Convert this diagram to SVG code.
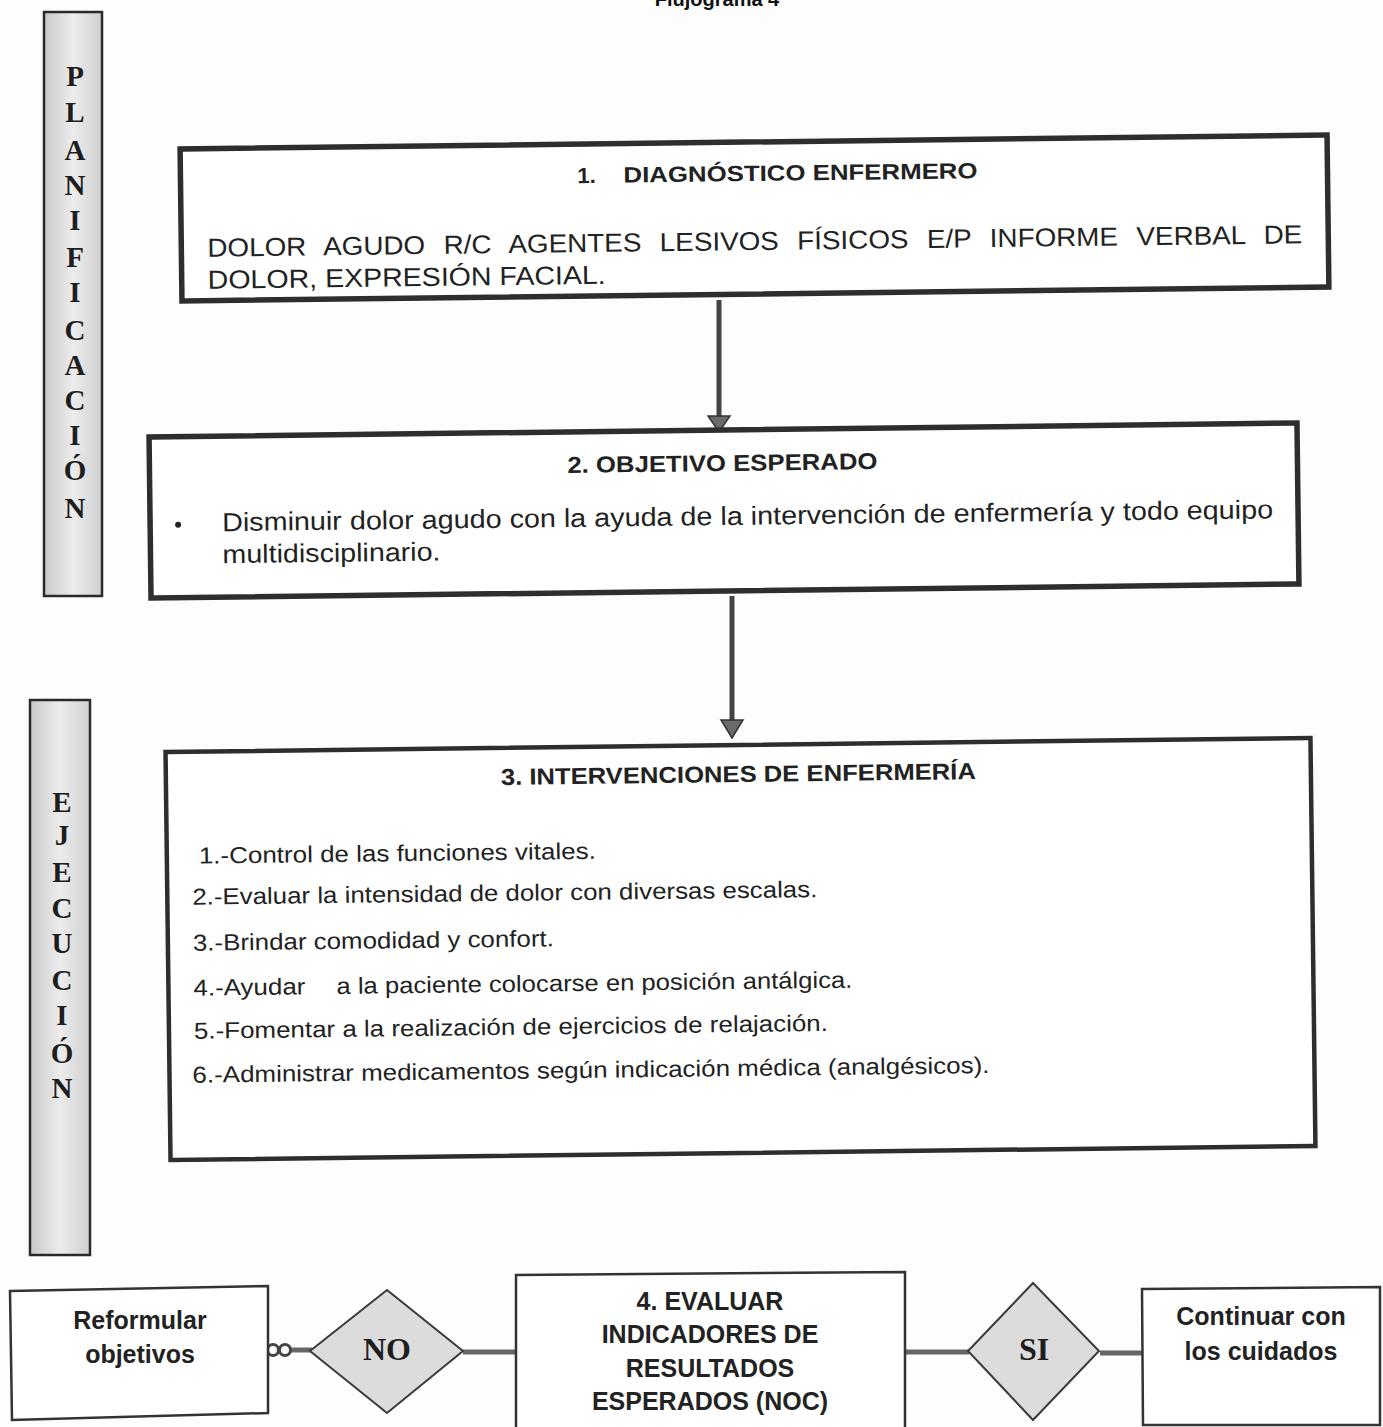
<svg xmlns="http://www.w3.org/2000/svg" width="1383" height="1427" viewBox="0 0 1383 1427">
<defs>
<linearGradient id="bar" x1="0" y1="0" x2="1" y2="0">
<stop offset="0" stop-color="#c9c9c9"/>
<stop offset="0.5" stop-color="#ececec"/>
<stop offset="1" stop-color="#cfcfcf"/>
</linearGradient>
<style>
.bg{fill:#fdfdfd}
.bar{fill:url(#bar);stroke:#2a2a2a;stroke-width:2.5}
.vl{font-family:"Liberation Serif",serif;font-weight:bold;font-size:29px;fill:#1e1e1e;text-anchor:middle}
.box{fill:#ffffff;stroke:#2e2e2e}
.thin{fill:#ffffff;stroke:#333;stroke-width:2.5}
.dia{fill:#dcdcdc;stroke:#3a3a3a;stroke-width:2}
.h{font-family:"Liberation Sans Narrow","Liberation Sans",sans-serif;font-weight:bold;font-size:23px;fill:#222}
.t{font-family:"Liberation Sans",sans-serif;font-size:26px;fill:#222}
.n{font-family:"Liberation Sans Narrow","Liberation Sans",sans-serif;font-size:26px;fill:#222}
.li{font-family:"Liberation Sans Narrow","Liberation Sans",sans-serif;font-size:23px;fill:#222}
.b{font-family:"Liberation Sans",sans-serif;font-weight:bold;font-size:25px;fill:#222;text-anchor:middle}
.d{font-family:"Liberation Serif",serif;font-weight:bold;font-size:32px;fill:#1e1e1e;text-anchor:middle}
.conn{stroke:#444;stroke-width:5;fill:none}
.conn2{stroke:#666;stroke-width:5;fill:none}
.head{fill:#6a6a6a;stroke:#333;stroke-width:1.5}
</style>
</defs>
<rect class="bg" x="0" y="0" width="1383" height="1427"/>

<text id="title" x="717" y="6" text-anchor="middle" style="font-family:'Liberation Sans',sans-serif;font-weight:bold;font-size:20px;fill:#111">Flujograma 4</text>

<g id="planificacion">
<rect class="bar" x="44" y="12" width="58" height="584"/>
<text class="vl" x="75" y="86">P</text>
<text class="vl" x="75" y="122">L</text>
<text class="vl" x="75" y="160">A</text>
<text class="vl" x="75" y="195">N</text>
<text class="vl" x="75" y="230">I</text>
<text class="vl" x="75" y="267">F</text>
<text class="vl" x="75" y="302">I</text>
<text class="vl" x="75" y="340">C</text>
<text class="vl" x="75" y="375">A</text>
<text class="vl" x="75" y="410">C</text>
<text class="vl" x="75" y="445">I</text>
<text class="vl" x="75" y="480">Ó</text>
<text class="vl" x="75" y="518">N</text>
</g>

<g id="ejecucion">
<rect class="bar" x="30" y="700" width="60" height="555"/>
<text class="vl" x="62" y="812">E</text>
<text class="vl" x="62" y="845">J</text>
<text class="vl" x="62" y="882">E</text>
<text class="vl" x="62" y="918">C</text>
<text class="vl" x="62" y="953">U</text>
<text class="vl" x="62" y="990">C</text>
<text class="vl" x="62" y="1025">I</text>
<text class="vl" x="62" y="1063">Ó</text>
<text class="vl" x="62" y="1098">N</text>
</g>

<g id="connectors">
<line class="conn" x1="719" y1="300" x2="719" y2="418"/>
<path class="head" d="M708,416 L730,416 L719,432 Z"/>
<line class="conn" x1="732" y1="596" x2="732" y2="722"/>
<path class="head" d="M721,720 L743,720 L732,738 Z"/>
<line class="conn2" x1="290" y1="1350" x2="312" y2="1350"/>
<circle cx="273" cy="1350" r="5.5" fill="none" stroke="#444" stroke-width="3"/>
<circle cx="285" cy="1350" r="5.5" fill="none" stroke="#444" stroke-width="3"/>
<line class="conn2" x1="463" y1="1352" x2="516" y2="1352"/>
<line class="conn2" x1="905" y1="1352" x2="969" y2="1352"/>
<line class="conn2" x1="1100" y1="1353" x2="1142" y2="1353"/>
</g>

<g id="n1" transform="rotate(-0.7 754 218)">
<rect class="box" x="181" y="142" width="1147" height="152" stroke-width="5.5"/>
<text class="h" x="578" y="181" style="font-family:'Liberation Sans',sans-serif;font-size:22px">1.</text>
<text class="h" x="624" y="181" textLength="354" lengthAdjust="spacingAndGlyphs" style="font-family:'Liberation Sans',sans-serif;font-size:22px">DIAGNÓSTICO ENFERMERO</text>
<text class="t" x="207" y="250" word-spacing="10" textLength="1095" lengthAdjust="spacingAndGlyphs">DOLOR AGUDO R/C AGENTES LESIVOS FÍSICOS E/P INFORME VERBAL DE</text>
<text class="t" x="207" y="282" textLength="398" lengthAdjust="spacingAndGlyphs">DOLOR, EXPRESIÓN FACIAL.</text>
</g>

<g id="n2" transform="rotate(-0.7 724 511)">
<rect class="box" x="150" y="430" width="1148" height="161" stroke-width="5.5"/>
<text class="h" x="568" y="471" textLength="310" lengthAdjust="spacingAndGlyphs">2. OBJETIVO ESPERADO</text>
<circle cx="178" cy="518" r="3" fill="#222"/>
<text class="n" x="222" y="525" textLength="1051" lengthAdjust="spacingAndGlyphs">Disminuir dolor agudo con la ayuda de la intervención de enfermería y todo equipo</text>
<text class="n" x="222" y="557" textLength="218" lengthAdjust="spacingAndGlyphs">multidisciplinario.</text>
</g>

<g id="n3" transform="rotate(-0.7 740 950)">
<rect class="box" x="168" y="745" width="1145" height="408" stroke-width="4.5"/>
<text class="h" x="503" y="782" textLength="475" lengthAdjust="spacingAndGlyphs">3. INTERVENCIONES DE ENFERMERÍA</text>
<text class="li" x="200" y="857" textLength="397" lengthAdjust="spacingAndGlyphs">1.-Control de las funciones vitales.</text>
<text class="li" x="193" y="898" textLength="625" lengthAdjust="spacingAndGlyphs">2.-Evaluar la intensidad de dolor con diversas escalas.</text>
<text class="li" x="193" y="944" textLength="361" lengthAdjust="spacingAndGlyphs">3.-Brindar comodidad y confort.</text>
<text class="li" x="193" y="989" textLength="112" lengthAdjust="spacingAndGlyphs">4.-Ayudar</text>
<text class="li" x="336" y="989" textLength="516" lengthAdjust="spacingAndGlyphs">a la paciente colocarse en posición antálgica.</text>
<text class="li" x="193" y="1032" textLength="634" lengthAdjust="spacingAndGlyphs">5.-Fomentar a la realización de ejercicios de relajación.</text>
<text class="li" x="191" y="1076" textLength="797" lengthAdjust="spacingAndGlyphs">6.-Administrar medicamentos según indicación médica (analgésicos).</text>
</g>

<g id="reformular">
<polygon class="thin" points="10,1291 268,1286 268,1413 12,1420"/>
<text class="b" x="140" y="1329">Reformular</text>
<text class="b" x="140" y="1363">objetivos</text>
</g>

<g id="no">
<polygon class="dia" points="387,1290 463,1351 387,1413 310,1351"/>
<text class="d" x="387" y="1360">NO</text>
</g>

<g id="evaluar">
<polyline class="thin" points="516,1430 516,1275 905,1272 905,1430"/>
<text class="b" x="710" y="1310">4. EVALUAR</text>
<text class="b" x="710" y="1343">INDICADORES DE</text>
<text class="b" x="710" y="1377">RESULTADOS</text>
<text class="b" x="710" y="1410">ESPERADOS (NOC)</text>
</g>

<g id="si">
<polygon class="dia" points="1033,1283 1099,1351 1033,1420 968,1351"/>
<text class="d" x="1034" y="1360">SI</text>
</g>

<g id="continuar">
<polygon class="thin" points="1142,1289 1380,1287 1380,1425 1143,1425"/>
<text class="b" x="1261" y="1325">Continuar con</text>
<text class="b" x="1261" y="1360">los cuidados</text>
</g>
</svg>
